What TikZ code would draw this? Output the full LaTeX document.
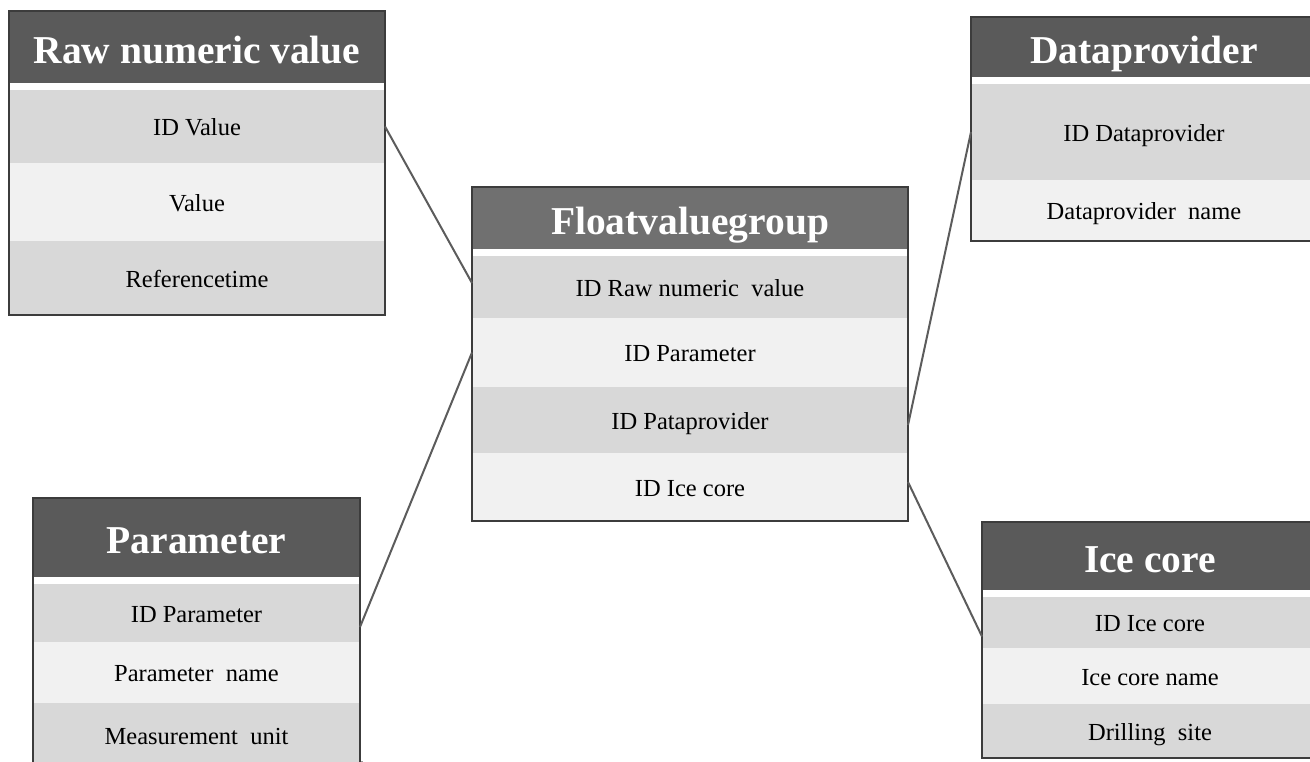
\documentclass[tikz,border=0pt]{standalone}
\usepackage{fontspec}
\setmainfont{Liberation Serif}
\usetikzlibrary{shadows,fit,backgrounds}
\definecolor{hdrdark}{HTML}{5A5A5A}
\definecolor{hdrmid}{HTML}{707070}
\definecolor{rowdark}{HTML}{D8D8D8}
\definecolor{rowlight}{HTML}{F1F1F1}
\definecolor{edgegray}{HTML}{3C3C3C}
\definecolor{linkgray}{HTML}{5C5C5C}
\tikzset{
  cell/.style={anchor=north west, inner sep=0pt, outer sep=0pt, text=black,
    font=\fontsize{24.5}{28}\selectfont, text height=19pt, text depth=1pt},
  hdr/.style={cell, fill=hdrdark, text=white,
    font=\fontsize{39.5}{44}\selectfont\bfseries, text height=34pt, text depth=2pt},
  hdrlight/.style={hdr, fill=hdrmid},
  rowd/.style={cell, fill=rowdark},
  rowl/.style={cell, fill=rowlight},
  tableback/.style={inner sep=0pt, outer sep=0pt, fill=white,
    drop shadow={shadow xshift=2.5pt, shadow yshift=-3pt, opacity=0.4, fill=black}},
  frameline/.style={draw=edgegray, line width=1.5pt},
  linkline/.style={draw=linkgray, line width=2pt},
}
\begin{document}
\begin{tikzpicture}[x=1pt,y=-1pt]
\useasboundingbox[fill=white] (0,0) rectangle (1310,761);

% Raw numeric value
\node[hdr,  minimum width=376pt, minimum height=72pt] (raw-h) at (9,11) {Raw numeric value};
\node[rowd, minimum width=376pt, minimum height=73pt] (raw-1) at (9,90) {ID Value};
\node[rowl, minimum width=376pt, minimum height=78pt] (raw-2) at (9,163) {Value};
\node[rowd, minimum width=376pt, minimum height=74pt] (raw-3) at (9,241) {Referencetime};

% Floatvaluegroup
\node[hdrlight, minimum width=436pt, minimum height=62pt] (flt-h) at (472,187) {Floatvaluegroup};
\node[rowd, minimum width=436pt, minimum height=62pt] (flt-1) at (472,256) {ID Raw numeric \ value};
\node[rowl, minimum width=436pt, minimum height=69pt] (flt-2) at (472,318) {ID Parameter};
\node[rowd, minimum width=436pt, minimum height=66pt] (flt-3) at (472,387) {ID Pataprovider};
\node[rowl, minimum width=436pt, minimum height=68pt] (flt-4) at (472,453) {ID Ice core};

% Dataprovider
\node[hdr,  minimum width=346pt, minimum height=60pt] (dat-h) at (971,17) {Dataprovider};
\node[rowd, minimum width=346pt, minimum height=96pt] (dat-1) at (971,84) {ID Dataprovider};
\node[rowl, minimum width=346pt, minimum height=61pt] (dat-2) at (971,180) {Dataprovider \ name};

% Parameter
\node[hdr,  minimum width=327pt, minimum height=79pt] (par-h) at (33,498) {Parameter};
\node[rowd, minimum width=327pt, minimum height=58pt] (par-1) at (33,584) {ID Parameter};
\node[rowl, minimum width=327pt, minimum height=61pt] (par-2) at (33,642) {Parameter \ name};
\node[rowd, minimum width=327pt, minimum height=65pt] (par-3) at (33,703) {Measurement \ unit};

% Ice core
\node[hdr,  minimum width=336pt, minimum height=68pt] (ice-h) at (982,522) {Ice core};
\node[rowd, minimum width=336pt, minimum height=51pt] (ice-1) at (982,597) {ID Ice core};
\node[rowl, minimum width=336pt, minimum height=56pt] (ice-2) at (982,648) {Ice core name};
\node[rowd, minimum width=336pt, minimum height=54pt] (ice-3) at (982,704) {Drilling \ site};

% table backgrounds with shadow
\begin{scope}[on background layer]
  \node[tableback, fit=(raw-h)(raw-3)] (raw) {};
  \node[tableback, fit=(flt-h)(flt-4)] (flt) {};
  \node[tableback, fit=(dat-h)(dat-2)] (dat) {};
  \node[tableback, fit=(par-h)(par-3)] (par) {};
  \node[tableback, fit=(ice-h)(ice-3)] (ice) {};
\end{scope}

% outlines
\foreach \t in {raw,flt,dat,par,ice}
  \draw[frameline] (\t.north west) rectangle (\t.south east);

% connectors
\draw[linkline] (raw-1.east) -- ([yshift=4pt]flt-1.west);
\draw[linkline] ([yshift=-14pt]par-1.east) -- (flt-2.west);
\draw[linkline] ([yshift=-5pt]flt-3.east) -- (dat-1.west);
\draw[linkline] ([yshift=5pt]flt-4.east) -- ([yshift=-14pt]ice-1.west);
\end{tikzpicture}
\end{document}
